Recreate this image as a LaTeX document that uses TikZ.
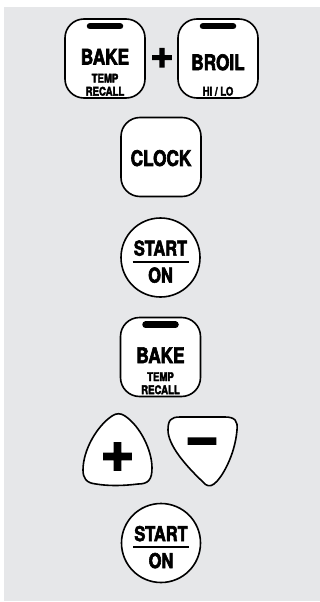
\documentclass[tikz,border=0pt]{standalone}
\usepackage{fontspec}
\newfontfamily\keyfont{TeX Gyre Heros}[FakeStretch=0.8, FakeBold=2.8]
\newfontfamily\signfont{TeX Gyre Heros}[FakeBold=3]
\usetikzlibrary{calc}

\definecolor{panelgray}{HTML}{E6E7E9}

\tikzset{
  keybox/.style={draw=black, line width=1.6pt, fill=white, rounded corners=19pt,
    minimum width=80pt, minimum height=79pt, inner sep=0pt},
  roundkey/.style={draw=black, line width=1.6pt, fill=white, circle,
    minimum size=79pt, inner sep=0pt},
  bigword/.style={font=\keyfont\bfseries\fontsize{21.5}{21.5}\selectfont,
    inner sep=0pt, text depth=0pt},
  midword/.style={font=\keyfont\bfseries\fontsize{20.5}{20.5}\selectfont,
    inner sep=0pt, text depth=0pt},
  smallword/.style={font=\keyfont\bfseries\fontsize{12}{12}\selectfont,
    inner sep=0pt, text depth=0pt},
  keybar/.style={line width=6.5pt, line cap=round},
  padkey/.style={draw=black, line width=1.6pt, fill=white},
  signword/.style={font=\signfont\bfseries\fontsize{#1}{#1}\selectfont,
    inner sep=0pt, text depth=0pt},
}

\begin{document}
\begin{tikzpicture}[x=1pt, y=-1pt]
  \useasboundingbox (0,0) rectangle (320,602);
  % panel
  \fill[panelgray] (4,7) rectangle (320,601);

  % BAKE + BROIL
  \node[keybox] (bakeA) at (105,58.5) {};
  \draw[keybar] ($(bakeA.north)+(-15,8)$) -- ($(bakeA.north)+(15,8)$);
  \node[bigword] (bakeAword) at ($(bakeA.north)+(0,38.5)$) {BAKE};
  \node[smallword] (bakeAtemp) at ($(bakeA.north)+(0,60)$) {TEMP};
  \node[smallword] (bakeArecall) at ($(bakeA.north)+(0,73)$) {RECALL};
  \node[signword=40] (plusA) at (162,58) {+};
  \node[keybox] (broil) at (218,58.5) {};
  \draw[keybar] ($(broil.north)+(-15,8)$) -- ($(broil.north)+(15,8)$);
  \node[bigword] (broilword) at ($(broil.north)+(0,44)$) {BROIL};
  \node[smallword] (broilhilo) at ($(broil.north)+(0,73)$) {HI / LO};

  % CLOCK
  \node[keybox] (clock) at (161,157) {};
  \node[bigword] (clockword) at ($(clock)+(0,1)$) {CLOCK};

  % START / ON
  \node[roundkey] (startA) at (160.5,257.5) {};
  \node[midword] (startAword) at ($(startA)+(0,-9.5)$) {START};
  \draw[line width=2pt] ($(startA)+(-28,4)$) -- ($(startA)+(28,4)$);
  \node[midword] (startAon) at ($(startA)+(0,17.5)$) {ON};

  % BAKE
  \node[keybox] (bakeB) at (160.5,357) {};
  \draw[keybar] ($(bakeB.north)+(-15,8)$) -- ($(bakeB.north)+(15,8)$);
  \node[bigword] (bakeBword) at ($(bakeB.north)+(0,38.5)$) {BAKE};
  \node[smallword] (bakeBtemp) at ($(bakeB.north)+(0,60)$) {TEMP};
  \node[smallword] (bakeBrecall) at ($(bakeB.north)+(0,73)$) {RECALL};

  % + and - keys
  \draw[padkey] (112,416) .. controls (116,413) and (121,413) .. (125,416)
    .. controls (140,426) and (152,450) .. (152,468)
    .. controls (152,480) and (148,484) .. (138,484)
    .. controls (122,486) and (108,486) .. (96,484)
    .. controls (86,483) and (83,478) .. (83,470)
    .. controls (83,450) and (97,426) .. (112,416) -- cycle;
  \node[signword=58] (plusB) at (117.5,457) {+};
  \draw[padkey] (180,417) -- (225,417)
    .. controls (235,417) and (238,421) .. (237,430)
    .. controls (235,455) and (222,478) .. (214,484)
    .. controls (210,487) and (206,486) .. (203,482)
    .. controls (185,465) and (168,445) .. (168,430)
    .. controls (168,420) and (171,417) .. (180,417) -- cycle;
  \node[signword=58] (minusB) at (202,447) {−};

  % START / ON
  \node[roundkey] (startB) at (161,543) {};
  \node[midword] (startBword) at ($(startB)+(0,-9.5)$) {START};
  \draw[line width=2pt] ($(startB)+(-28,4)$) -- ($(startB)+(28,4)$);
  \node[midword] (startBon) at ($(startB)+(0,17.5)$) {ON};
\end{tikzpicture}
\end{document}
